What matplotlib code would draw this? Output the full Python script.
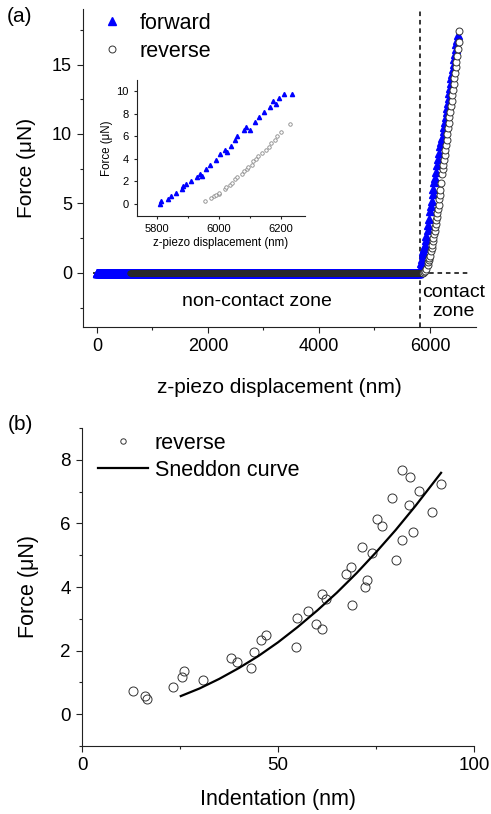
import numpy as np
import matplotlib
matplotlib.use("Agg")
import matplotlib.pyplot as plt
from matplotlib.ticker import MultipleLocator

plt.rcParams['font.family'] = ['Liberation Sans', 'DejaVu Sans']

# ---------------- data ----------------
# (a) main curve: baseline (non-contact) sweep, force reads 0
z_step = 5  # nm, sampling of the piezo sweep
fwd_flat_range = (0, 5800)
rev_flat_range = (600, 5870)

fwd_contact_z = [5810, 5814, 5836, 5844, 5861, 5879, 5884, 5893, 5909, 5928, 5938, 5958,
                 5971, 5990, 6003, 6019, 6038, 6052, 6057, 6081, 6088, 6117, 6128, 6144,
                 6163, 6174, 6192, 6209, 6235,
                 6250, 6262, 6275, 6288, 6300, 6312, 6325, 6337, 6350, 6362, 6375, 6387,
                 6400, 6412, 6425, 6437, 6450, 6462, 6475, 6487, 6500]
fwd_contact_f = [0.0, 0.24, 0.44, 0.68, 0.97, 1.35, 1.56, 1.76, 2.0, 2.38, 2.68, 3.09,
                 3.47, 3.91, 4.44, 4.79, 5.15, 5.68, 6.06, 6.56, 6.85, 7.29, 7.74, 8.18,
                 8.62, 9.15, 9.44, 9.74, 9.8,
                 10.2, 10.5, 10.85, 11.2, 11.55, 11.9, 12.25, 12.6, 12.95, 13.3, 13.65, 14.0,
                 14.35, 14.7, 15.05, 15.4, 15.75, 16.1, 16.45, 16.8, 17.15]

# reverse, contact part
rev_contact_z = [5880, 5900, 5920, 5938, 5958, 5972, 5985, 5992, 6000, 6020, 6030, 6040,
                 6052, 6060, 6075, 6083, 6090, 6105, 6118, 6125, 6135, 6150, 6158, 6170,
                 6180, 6190, 6203,
                 6215, 6228, 6240, 6252, 6265, 6277, 6290, 6302, 6315, 6327, 6340, 6352,
                 6365, 6377, 6390, 6402, 6415, 6427, 6440, 6452, 6465, 6477, 6490, 6502,
                 6515, 6523]
rev_contact_f = [0.0, 0.05, 0.15, 0.3, 0.6, 0.8, 0.9, 1.1, 1.2, 1.6, 1.8, 2.0,
                 2.3, 2.5, 2.8, 3.0, 3.3, 3.5, 3.8, 4.0, 4.3, 4.6, 4.9, 5.3,
                 5.6, 6.0, 6.5,
                 7.1, 7.45, 7.8, 8.15, 8.5, 8.85, 9.2, 9.6, 10.0, 10.4, 10.8, 11.2,
                 11.6, 12.0, 12.4, 12.8, 13.2, 13.6, 14.0, 14.4, 14.8, 15.2, 15.6, 16.1,
                 16.6, 17.4]

contact_z = 5830  # dashed boundary

# inset data
ins_fwd_z = [5810, 5814, 5836, 5844, 5861, 5879, 5884, 5893, 5909, 5928, 5938, 5945, 5958,
             5971, 5990, 6003, 6019, 6025, 6038, 6052, 6057, 6081, 6088, 6100, 6117, 6128,
             6144, 6163, 6174, 6185, 6192, 6209, 6235]
ins_fwd_f = [0.0, 0.24, 0.44, 0.68, 0.97, 1.35, 1.56, 1.76, 2.0, 2.38, 2.68, 2.45, 3.09,
             3.47, 3.91, 4.44, 4.79, 4.6, 5.15, 5.68, 6.06, 6.56, 6.85, 6.6, 7.29, 7.74,
             8.18, 8.62, 9.15, 8.9, 9.44, 9.74, 9.8]
ins_rev_z = [5955, 5975, 5982, 5990, 5998, 6000, 6018, 6022, 6035, 6040, 6052, 6058,
             6075, 6080, 6090, 6092, 6105, 6110, 6120, 6125, 6138, 6150, 6160, 6168,
             6180, 6188, 6200, 6230]
ins_rev_f = [0.3, 0.5, 0.7, 0.8, 0.9, 1.0, 1.3, 1.5, 1.7, 1.9, 2.2, 2.4,
             2.7, 2.9, 3.1, 3.3, 3.5, 3.8, 4.0, 4.3, 4.5, 4.8, 5.1, 5.4,
             5.7, 6.0, 6.4, 7.1]

# (b) indentation data
ind = [13.1, 16.1, 16.7, 23.3, 25.4, 26.0, 30.8, 37.9, 39.5, 43.2, 43.9, 45.6, 46.9,
       54.6, 54.8, 57.7, 59.8, 61.2, 61.3, 62.2, 67.3, 68.6, 68.9, 71.4, 72.1, 72.7,
       73.9, 75.2, 76.6, 79.0, 80.1, 81.6, 81.7, 83.5, 83.7, 84.4, 85.9, 89.3, 91.7]
force_b = [0.72, 0.57, 0.48, 0.86, 1.17, 1.35, 1.06, 1.78, 1.64, 1.46, 1.97, 2.33, 2.48,
           2.10, 3.04, 3.24, 2.85, 2.67, 3.79, 3.61, 4.42, 4.64, 3.43, 5.27, 4.01, 4.23,
           5.07, 6.15, 5.91, 6.79, 4.85, 7.69, 5.48, 6.59, 7.46, 5.72, 7.01, 6.35, 7.24]

sned_x = [25.2, 30, 35, 40, 45, 50, 55, 60, 65, 70, 75, 80, 85, 91.6]
sned_y = [0.57, 0.81, 1.11, 1.45, 1.83, 2.26, 2.74, 3.26, 3.82, 4.43, 5.09, 5.79, 6.54, 7.59]

# ---------------- figure ----------------
fig = plt.figure(figsize=(4.91, 8.14), dpi=100)

BLUE = '#0000ff'

def style_axes(ax, tick_fs):
    for s in ['top', 'right']:
        ax.spines[s].set_visible(False)
    for s in ['left', 'bottom']:
        ax.spines[s].set_linewidth(0.8)
        ax.spines[s].set_color('#222222')
    ax.tick_params(which='major', direction='out', length=4.5, width=0.8,
                   labelsize=tick_fs, color='#222222')
    ax.tick_params(which='minor', direction='out', length=2.5, width=0.8, color='#222222')

# ---- panel (a) ----
axa = fig.add_axes([83/491, 1-327/814, 393/491, 318/814])
style_axes(axa, 13)

fwd_flat_z = np.arange(fwd_flat_range[0], fwd_flat_range[1], z_step)
rev_flat_z = np.arange(rev_flat_range[0], rev_flat_range[1], z_step)
fz = np.concatenate([fwd_flat_z, fwd_contact_z])
ff = np.concatenate([np.zeros(len(fwd_flat_z)), fwd_contact_f])

axa.plot([-70, 6690], [0, 0], ls=(0, (3, 2.5)), color='black', lw=1.1, zorder=1)
axa.axvline(contact_z, ls=(0, (3, 2.5)), color='black', lw=1.1, zorder=1)
axa.plot(fz, ff, ls='none', marker='^', ms=5.5, color=BLUE, mec=BLUE, zorder=3,
         label='forward')
# reverse baseline: dense open circles form a dark band
axa.plot(rev_flat_z, np.zeros(len(rev_flat_z)), ls='none', marker='o', ms=3.8,
         mfc='none', mec='#2a2a2a', mew=0.5, zorder=4)
axa.plot(rev_contact_z, rev_contact_f, ls='none', marker='o', ms=5, mfc='white',
         mec='#333333', mew=0.7, zorder=4, label='reverse')

axa.set_xlim(-250, 6830)
axa.set_ylim(-3.9, 19)
axa.xaxis.set_major_locator(MultipleLocator(2000))
axa.xaxis.set_minor_locator(MultipleLocator(1000))
axa.yaxis.set_major_locator(MultipleLocator(5))
axa.yaxis.set_minor_locator(MultipleLocator(2.5))
axa.set_xlabel('z-piezo displacement (nm)', fontsize=15)
axa.set_ylabel('Force (μN)', fontsize=15)
axa.xaxis.set_label_coords(0.5, -0.16)
axa.yaxis.set_label_coords(-0.12, 0.5)

axa.text(2883, -2.07, 'non-contact zone', fontsize=14, ha='center', va='center')
axa.text(6432, -2.07, 'contact\nzone', fontsize=14, ha='center', va='center',
         linespacing=1.15)

axa.legend(loc='upper left', bbox_to_anchor=(101/491, 1-13/814),
           bbox_transform=fig.transFigure, frameon=False, fontsize=15.5,
           handlelength=1.0, handletextpad=0.8, labelspacing=0.32, borderpad=0,
           borderaxespad=0)

# ---- inset ----
axi = fig.add_axes([137/491, 1-216/814, 168/491, 136/814])
style_axes(axi, 8)
axi.tick_params(which='major', length=2.5)
axi.tick_params(which='minor', length=1.5)
axi.patch.set_alpha(0)
axi.plot(ins_fwd_z, ins_fwd_f, ls='none', marker='^', ms=3, color=BLUE, mec=BLUE)
axi.plot(ins_rev_z, ins_rev_f, ls='none', marker='o', ms=2.5, mfc='white',
         mec='#888888', mew=0.6)
axi.set_xlim(5735, 6277)
axi.set_ylim(-1.06, 11)
axi.xaxis.set_major_locator(MultipleLocator(200))
axi.xaxis.set_minor_locator(MultipleLocator(100))
axi.yaxis.set_major_locator(MultipleLocator(2))
axi.set_xlabel('z-piezo displacement (nm)', fontsize=8.3)
axi.set_ylabel('Force (μN)', fontsize=8.3)
axi.xaxis.set_label_coords(0.5, -0.155)
axi.yaxis.set_label_coords(-0.14, 0.5)

# ---- panel (b) ----
axb = fig.add_axes([82/491, 1-746/814, 392/491, 318/814])
style_axes(axb, 13.5)
axb.plot(ind, force_b, ls='none', marker='o', ms=6.5, mfc='none', mec='#333333',
         mew=0.7, label='reverse')
axb.plot(sned_x, sned_y, color='black', lw=1.6, label='Sneddon curve')
axb.set_xlim(0, 100)
axb.set_ylim(-1, 9)
axb.xaxis.set_major_locator(MultipleLocator(50))
axb.xaxis.set_minor_locator(MultipleLocator(25))
axb.yaxis.set_major_locator(MultipleLocator(2))
axb.yaxis.set_minor_locator(MultipleLocator(1))
axb.set_xlabel('Indentation (nm)', fontsize=15.5)
axb.set_ylabel('Force (μN)', fontsize=15.5)
axb.xaxis.set_label_coords(0.5, -0.135)
axb.yaxis.set_label_coords(-0.11, 0.5)
axb.legend(loc='upper left', bbox_to_anchor=(98/491, 1-433/814),
           bbox_transform=fig.transFigure, frameon=False, fontsize=15.5,
           handlelength=2.3, handletextpad=0.33, labelspacing=0.28, borderpad=0,
           borderaxespad=0, markerscale=0.6)

fig.text(20/491, 1-17/814, '(a)', fontsize=15, ha='center', va='center')
fig.text(20/491, 1-425/814, '(b)', fontsize=15, ha='center', va='center')

fig.savefig('out.png', dpi=100)
